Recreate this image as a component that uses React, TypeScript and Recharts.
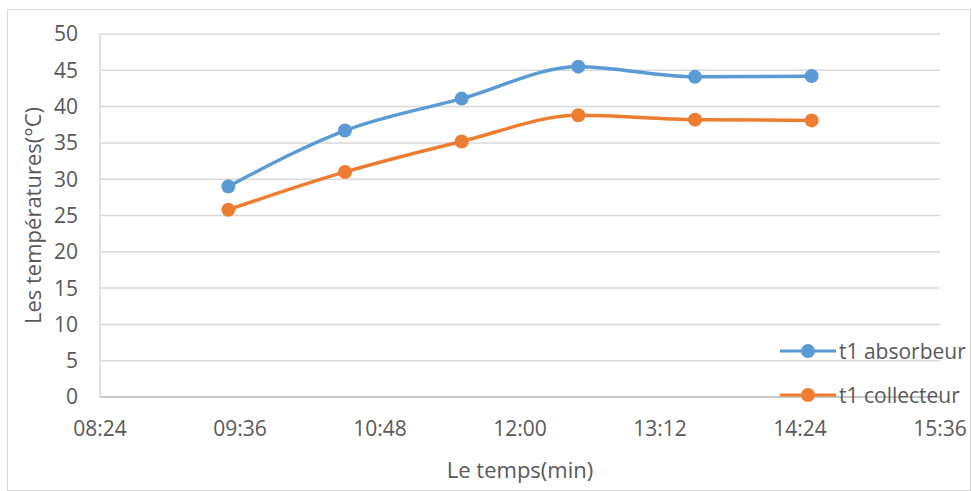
import React from 'react';
import {
  LineChart, Line, XAxis, YAxis, CartesianGrid, Label,
} from 'recharts';

const times = ['09:30', '10:30', '11:30', '12:30', '13:30', '14:30'];
const absorbeur = [29.0, 36.7, 41.1, 45.5, 44.1, 44.2];
const collecteur = [25.8, 31.0, 35.2, 38.8, 38.2, 38.1];

const xTicks = ['08:24', '09:36', '10:48', '12:00', '13:12', '14:24', '15:36'];
const yTicks = [0, 5, 10, 15, 20, 25, 30, 35, 40, 45, 50];

const SERIES = [
  { key: 'absorbeur', name: 't1 absorbeur', color: '#5B9BD5' },
  { key: 'collecteur', name: 't1 collecteur', color: '#ED7D31' },
];

const FONT = '"Open Sans", sans-serif';
const TEXT = '#595959';

const toMin = (s: string) => {
  const [h, m] = s.split(':').map(Number);
  return h * 60 + m;
};
const fmt = (v: number) => {
  const h = Math.floor(v / 60);
  const m = Math.round(v % 60);
  return `${String(h).padStart(2, '0')}:${String(m).padStart(2, '0')}`;
};

const data = times.map((t, i) => ({
  x: toMin(t),
  absorbeur: absorbeur[i],
  collecteur: collecteur[i],
}));

// legend sits inside the plot, bottom right, like the Excel original
const LegendBox = () => (
  <div
    style={{
      position: 'absolute', left: 780, top: 337, width: 192,
      fontFamily: FONT, color: TEXT, fontSize: 21,
    }}
  >
    {SERIES.map((s, i) => (
      <div key={s.key} style={{ display: 'flex', alignItems: 'center', height: 28, marginTop: i ? 16 : 0 }}>
        <svg width={58} height={16} style={{ flex: 'none' }}>
          <line x1={0} y1={8} x2={56} y2={8} stroke={s.color} strokeWidth={3} />
          <circle cx={28} cy={8} r={7} fill={s.color} />
        </svg>
        <span style={{ marginLeft: 1, whiteSpace: 'nowrap' }}>{s.name}</span>
      </div>
    ))}
  </div>
);

export default function App() {
  return (
    <div style={{ position: 'absolute', left: 0, top: 0, width: 972, height: 491, background: '#fff' }}>
      <div
        style={{
          position: 'absolute', left: 7, top: 9, width: 962, height: 480,
          border: '1px solid #D9D9D9',
        }}
      />
      <LineChart
        width={972}
        height={491}
        data={data}
        margin={{ top: 34, right: 32, bottom: 0, left: 0 }}
        style={{ position: 'absolute', left: 0, top: 0 }}
      >
        <CartesianGrid vertical={false} stroke="#D9D9D9" strokeWidth={1.5} />
        <XAxis
          type="number"
          dataKey="x"
          domain={[toMin(xTicks[0]), toMin(xTicks[xTicks.length - 1])]}
          ticks={xTicks.map(toMin)}
          tickFormatter={fmt}
          height={94}
          tickLine={false}
          tickSize={0}
          tickMargin={24}
          stroke="#BFBFBF"
          strokeWidth={1.5}
          tick={{ fill: TEXT, fontSize: 21, fontFamily: FONT }}
        >
          <Label
            value="Le temps(min)"
            position="insideBottom"
            offset={13}
            fill={TEXT}
            fontSize={22}
            fontFamily={FONT}
          />
        </XAxis>
        <YAxis
          type="number"
          domain={[0, 50]}
          ticks={yTicks}
          width={100}
          tickLine={false}
          tickSize={0}
          tickMargin={22}
          stroke="#D9D9D9"
          strokeWidth={1.5}
          tick={{ fill: TEXT, fontSize: 21, fontFamily: FONT }}
        >
          <Label
            value="Les températures(°C)"
            position="insideLeft"
            angle={-90}
            offset={33}
            fill={TEXT}
            fontSize={22}
            fontFamily={FONT}
            style={{ textAnchor: 'middle' }}
          />
        </YAxis>
        {SERIES.map((s) => (
          <Line
            key={s.key}
            dataKey={s.key}
            name={s.name}
            type="monotone"
            stroke={s.color}
            strokeWidth={3.5}
            dot={{ r: 7, fill: s.color, stroke: s.color, strokeWidth: 0 }}
            activeDot={false}
            isAnimationActive={false}
          />
        ))}
      </LineChart>
      <LegendBox />
    </div>
  );
}
